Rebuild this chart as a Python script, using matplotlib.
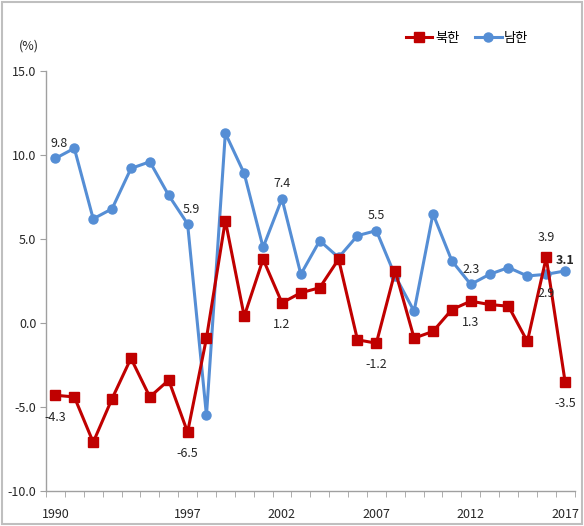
import matplotlib
matplotlib.use("Agg")
import matplotlib.pyplot as plt
from matplotlib.patches import Rectangle

plt.rcParams['font.family'] = ['Liberation Sans Narrow', 'Noto Sans CJK KR', 'DejaVu Sans']

years = list(range(1990, 2018))
north = [-4.3, -4.4, -7.1, -4.5, -2.1, -4.4, -3.4, -6.5, -0.9, 6.1, 0.4, 3.8, 1.2, 1.8,
         2.1, 3.8, -1.0, -1.2, 3.1, -0.9, -0.5, 0.8, 1.3, 1.1, 1.0, -1.1, 3.9, -3.5]
south = [9.8, 10.4, 6.2, 6.8, 9.2, 9.6, 7.6, 5.9, -5.5, 11.3, 8.9, 4.5, 7.4, 2.9,
         4.9, 3.9, 5.2, 5.5, 2.8, 0.7, 6.5, 3.7, 2.3, 2.9, 3.3, 2.8, 2.9, 3.1]
series_names = ["북한", "남한"]
tick_years = [1990, 1997, 2002, 2007, 2012, 2017]
yticks = [15.0, 10.0, 5.0, 0.0, -5.0, -10.0]
labels_north = {1990: ("-4.3", False), 1997: ("-6.5", False), 2002: ("1.2", False),
                2007: ("-1.2", False), 2012: ("1.3", False), 2016: ("3.9", True),
                2017: ("-3.5", False)}
labels_south = {1990: ("9.8", True), 1997: ("5.9", True), 2002: ("7.4", True),
                2007: ("5.5", True), 2012: ("2.3", True), 2016: ("2.9", False),
                2017: ("3.1", True)}

red = '#C00000'
blue = '#558ED5'
txt = '#262626'

fig = plt.figure(figsize=(5.84, 5.26), dpi=100)
ax = fig.add_axes([0.0788, 0.0665, 0.905, 0.7985])

x = list(range(len(years)))
ax.plot(x, north, color=red, lw=2.2, marker='s', ms=6.5, label=series_names[0], zorder=3)
ax.plot(x, south, color=blue, lw=2.2, marker='o', ms=6.5, label=series_names[1], zorder=2)

ax.set_xlim(-0.5, len(years) - 0.5)
ax.set_ylim(-10, 15)
ax.set_yticks(yticks)
ax.set_yticklabels([f"{v:.1f}" for v in yticks], fontsize=9, color=txt)
ax.set_xticks([i + 0.5 for i in range(-1, len(years))], minor=True)
ax.set_xticks([years.index(y) for y in tick_years])
ax.set_xticklabels([str(y) for y in tick_years], fontsize=9, color=txt)
ax.tick_params(axis='x', which='major', length=0, pad=12)
ax.tick_params(axis='x', which='minor', length=4, color='#A0A0A0', direction='out')
ax.tick_params(axis='y', length=4, color='#A0A0A0', pad=3)
for s in ['top', 'right']:
    ax.spines[s].set_visible(False)
for s in ['left', 'bottom']:
    ax.spines[s].set_color('#A0A0A0')
    ax.spines[s].set_linewidth(1.0)

for i, y in enumerate(years):
    if y in labels_north:
        t, above = labels_north[y]
        ax.annotate(t, (i, north[i]), xytext=(0, 10 if above else -11), textcoords='offset points',
                    ha='center', va='bottom' if above else 'top', fontsize=9, color=txt)
    if y in labels_south:
        t, above = labels_south[y]
        dx = 3 if y in (1990, 1997) else 0
        dy = 6 if above else -9
        if y == 2017:
            dy = 3
        ax.annotate(t, (i, south[i]), xytext=(dx, dy), textcoords='offset points',
                    ha='center', va='bottom' if above else 'top', fontsize=9, color=txt,
                    fontweight='bold' if y == 2017 else 'normal')

fig.text(0.050, 0.912, "(%)", fontsize=9, color=txt, ha='center', va='center')

leg = fig.legend(loc='center', bbox_to_anchor=(0.80, 0.927), ncol=2, frameon=False,
                 handlelength=2.0, handletextpad=0.2, columnspacing=1.2,
                 prop={'family': ['Noto Sans CJK KR', 'DejaVu Sans'], 'size': 9.5})

fig.patches.append(Rectangle((0.003, 0.003), 0.994, 0.994, transform=fig.transFigure,
                             fill=False, edgecolor='#BFBFBF', lw=1.5))

fig.savefig("out.png", dpi=100)
